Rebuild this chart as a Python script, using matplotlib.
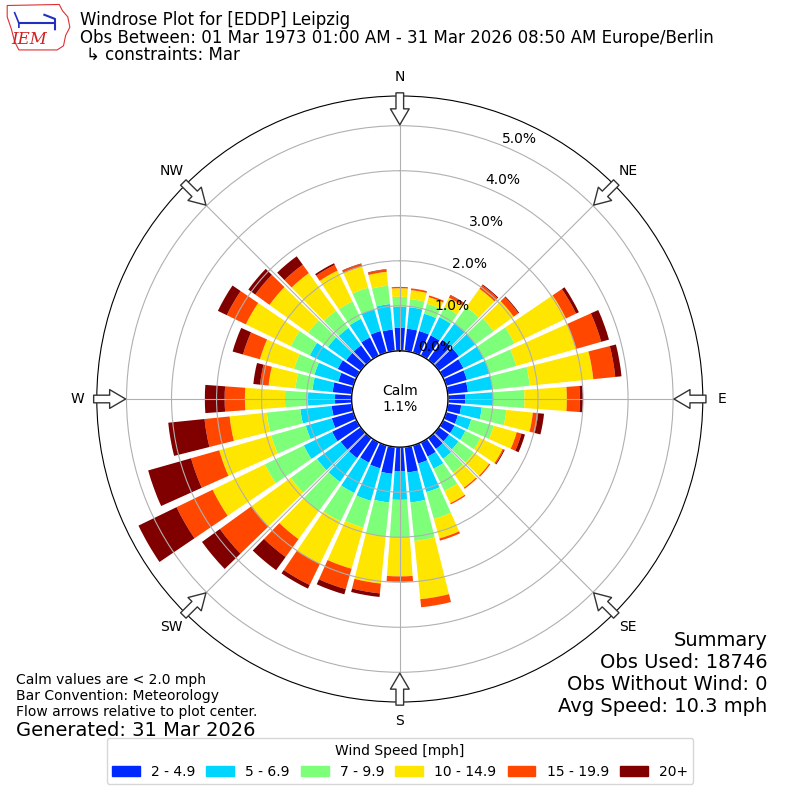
import numpy as np
import matplotlib.pyplot as plt
from matplotlib.patches import Patch, Polygon

# --- data (percent of observations per 10 degree sector) ---
directions = np.arange(0, 360, 10)
calm_pct = 1.07
speed_labels = ['2 - 4.9', '5 - 6.9', '7 - 9.9', '10 - 14.9', '15 - 19.9', '20+']

spd_2_5 = [0.51, 0.50, 0.50, 0.50, 0.55, 0.55, 0.50, 0.48, 0.45, 0.38, 0.30, 0.27,
           0.28, 0.28, 0.30, 0.35, 0.42, 0.57, 0.54, 0.60, 0.53, 0.50, 0.55, 0.55,
           0.60, 0.50, 0.45, 0.37, 0.43, 0.35, 0.46, 0.40, 0.40, 0.45, 0.50, 0.48]
spd_5_7 = [0.47, 0.48, 0.40, 0.45, 0.45, 0.45, 0.50, 0.52, 0.55, 0.62, 0.46, 0.31,
           0.27, 0.26, 0.27, 0.30, 0.66, 0.67, 0.63, 0.64, 0.75, 0.75, 0.65, 0.65,
           0.70, 0.60, 0.70, 0.60, 0.45, 0.55, 0.69, 0.50, 0.48, 0.46, 0.50, 0.57]
spd_7_10 = [0.22, 0.18, 0.23, 0.25, 0.45, 0.50, 0.76, 0.62, 0.83, 0.70, 0.55, 0.52,
            0.37, 0.42, 0.38, 0.55, 0.62, 0.86, 0.85, 0.76, 0.62, 0.70, 0.80, 0.72,
            0.96, 0.80, 0.75, 0.51, 0.38, 0.47, 0.47, 0.54, 0.47, 0.43, 0.50, 0.41]
spd_10_15 = [0.19, 0.20, 0.15, 0.23, 0.50, 0.55, 1.27, 1.38, 1.42, 0.94, 0.59, 0.53,
             0.55, 0.42, 0.41, 0.30, 0.45, 1.30, 0.85, 1.05, 0.95, 1.05, 0.77, 1.07,
             1.29, 1.20, 0.83, 0.89, 0.60, 0.79, 1.11, 1.06, 1.03, 0.76, 0.49, 0.31]
spd_15_20 = [0.03, 0.04, 0.04, 0.06, 0.10, 0.13, 0.25, 0.58, 0.49, 0.29, 0.12, 0.11,
             0.03, 0.03, 0.03, 0.03, 0.05, 0.18, 0.12, 0.22, 0.47, 0.52, 0.49, 0.87,
             0.89, 0.65, 0.56, 0.45, 0.19, 0.39, 0.47, 0.39, 0.23, 0.14, 0.06, 0.05]
spd_20p = [0.00, 0.00, 0.00, 0.01, 0.02, 0.02, 0.07, 0.18, 0.14, 0.07, 0.13, 0.08,
           0.02, 0.00, 0.00, 0.00, 0.00, 0.00, 0.00, 0.08, 0.12, 0.09, 0.36, 0.49,
           0.94, 0.99, 0.81, 0.44, 0.15, 0.24, 0.22, 0.19, 0.23, 0.04, 0.01, 0.01]

compass = ['N', 'NE', 'E', 'SE', 'S', 'SW', 'W', 'NW']
ring_values = [0, 1, 2, 3, 4, 5]

# --- plot ---
fig = plt.figure(figsize=(8, 8), dpi=100)
ax = fig.add_axes([0.121, 0.1225, 0.7575, 0.7575], projection='polar')
ax.set_theta_zero_location('N')
ax.set_theta_direction(-1)

colors = plt.cm.jet(np.linspace(0, 1, 7)[1:])
theta = np.deg2rad(directions)
width = np.deg2rad(8.3)
bottom = np.full(len(directions), calm_pct)
for vals, col, lab in zip([spd_2_5, spd_5_7, spd_7_10, spd_10_15, spd_15_20, spd_20p],
                          colors, speed_labels):
    ax.bar(theta, vals, width=width, bottom=bottom, color=col, zorder=1)
    bottom = bottom + np.array(vals)

ax.set_ylim(0, 6.73)
ax.set_axisbelow(False)
ax.set_rgrids([calm_pct + v for v in ring_values],
              [f'{v:.1f}%' for v in ring_values], angle=22.0, fontsize=10)
ax.set_thetagrids(range(0, 360, 45), compass, fontsize=10)
ax.tick_params(axis='x', pad=3.5)
ax.grid(True, color='#b0b0b0', lw=0.8)

# calm circle
t = np.linspace(0, 2 * np.pi, 300)
ax.fill(t, np.full_like(t, calm_pct), color='white', zorder=3)
ax.plot(t, np.full_like(t, calm_pct), color='k', lw=1, zorder=3)
ax.text(0, 0, f'Calm\n{calm_pct:.1f}%', ha='center', va='center', fontsize=10, zorder=4)

# flow arrows
for ang in range(0, 360, 45):
    ax.annotate('', xy=(np.deg2rad(ang), 6.09), xytext=(np.deg2rad(ang), 6.80),
                arrowprops=dict(arrowstyle='simple,head_length=1.15,head_width=1.35,tail_width=0.55',
                                fc='white', ec='#333333', lw=1, shrinkA=0, shrinkB=0,
                                mutation_scale=10),
                annotation_clip=False, zorder=5)

# header
fig.text(0.1, 0.975, 'Windrose Plot for [EDDP] Leipzig', fontsize=12, va='center')
fig.text(0.1, 0.9525, 'Obs Between: 01 Mar 1973 01:00 AM - 31 Mar 2026 08:50 AM Europe/Berlin',
         fontsize=12, va='center')
fig.text(0.108, 0.931, '↳ constraints: Mar', fontsize=12, va='center')

# logo
lax = fig.add_axes([0.005, 0.935, 0.085, 0.062])
lax.set_xlim(0, 64)
lax.set_ylim(48, 0)
lax.axis('off')
lax.add_patch(Polygon([(3, 3), (52, 2), (55, 8), (60, 14), (62, 24), (58, 32), (56, 42),
                       (50, 46), (14, 46), (10, 38), (7, 26), (3, 14)],
                      closed=True, fill=False, ec='#e03030', lw=0.8))
lax.plot([14, 46], [20, 20], color='#2030c0', lw=1.5)
lax.plot([10, 14, 14], [10, 20, 24], color='#2030c0', lw=1.2)
lax.plot([38, 48, 48], [12, 16, 26], color='#2030c0', lw=1.5)
lax.text(24, 36, 'IEM', color='#d02020', fontsize=12, family='DejaVu Serif',
         style='italic', ha='center', va='center')

# notes
fig.text(0.02, 0.15, 'Calm values are < 2.0 mph', fontsize=10, va='center')
fig.text(0.02, 0.13, 'Bar Convention: Meteorology', fontsize=10, va='center')
fig.text(0.02, 0.11, 'Flow arrows relative to plot center.', fontsize=10, va='center')
fig.text(0.02, 0.0875, 'Generated: 31 Mar 2026', fontsize=14, va='center')

fig.text(0.959, 0.2, 'Summary', fontsize=14, ha='right', va='center')
fig.text(0.959, 0.1725, 'Obs Used: 18746', fontsize=14, ha='right', va='center')
fig.text(0.959, 0.145, 'Obs Without Wind: 0', fontsize=14, ha='right', va='center')
fig.text(0.959, 0.1175, 'Avg Speed: 10.3 mph', fontsize=14, ha='right', va='center')

handles = [Patch(color=c) for c in colors]
fig.legend(handles, speed_labels, loc='lower center', bbox_to_anchor=(0.5, 0.011),
           ncol=6, title='Wind Speed [mph]', fontsize=10, title_fontsize=10,
           columnspacing=0.8)

fig.savefig('out.png', dpi=100)
